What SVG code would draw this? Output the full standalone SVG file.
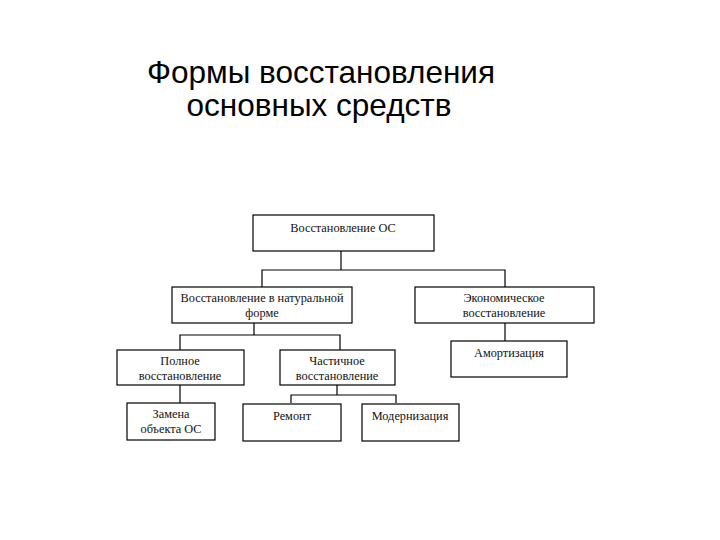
<svg xmlns="http://www.w3.org/2000/svg" width="720" height="540" viewBox="0 0 720 540">
<style>
rect{fill:#fff;stroke:#000;stroke-width:1.2}
.t{font-family:"Liberation Serif",serif;font-size:12.3px;text-anchor:middle;fill:#111}
.h{font-family:"Liberation Sans",sans-serif;font-size:31.5px;text-anchor:middle;fill:#000}
#c path{fill:none;stroke:#000;stroke-width:1.2}
</style>
<rect x="0" y="0" width="720" height="540" style="fill:#fff;stroke:none"/>
<text class="h" x="321" y="83">Формы восстановления</text>
<text class="h" x="319" y="116">основных средств</text>
<g id="c">
<path d="M341 251V270M262 287V270H505V287"/>
<path d="M254 323V335M180 350V335H340V350"/>
<path d="M505 323V341"/>
<path d="M180 385V403"/>
<path d="M337 385V395M291 403V395H396V403"/>
</g>
<g id="n1"><rect x="253" y="215" width="181" height="36"/><text class="t" x="343" y="232">Восстановление ОС</text></g>
<g id="n2"><rect x="172" y="287" width="180" height="36"/><text class="t" x="262" y="302">Восстановление в натуральной</text><text class="t" x="262" y="317">форме</text></g>
<g id="n3"><rect x="415" y="287" width="179" height="36"/><text class="t" x="504" y="302">Экономическое</text><text class="t" x="504" y="317">восстановление</text></g>
<g id="n4"><rect x="451" y="341" width="116" height="36"/><text class="t" x="509" y="357">Амортизация</text></g>
<g id="n5"><rect x="117" y="350" width="127" height="35"/><text class="t" x="180" y="365">Полное</text><text class="t" x="180" y="380">восстановление</text></g>
<g id="n6"><rect x="280" y="350" width="115" height="35"/><text class="t" x="337" y="365">Частичное</text><text class="t" x="337" y="380">восстановление</text></g>
<g id="n7"><rect x="127" y="403" width="88" height="37"/><text class="t" x="171" y="418">Замена</text><text class="t" x="171" y="433">объекта ОС</text></g>
<g id="n8"><rect x="243" y="404" width="98" height="37"/><text class="t" x="292" y="420">Ремонт</text></g>
<g id="n9"><rect x="362" y="404" width="97" height="37"/><text class="t" x="410" y="420">Модернизация</text></g>
</svg>
